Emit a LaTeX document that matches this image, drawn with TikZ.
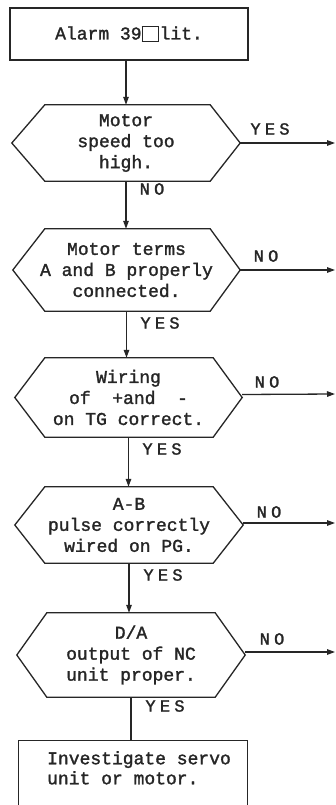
\documentclass[tikz,border=0pt]{standalone}
\usepackage{fontspec}
\setmainfont{Liberation Mono}[FakeBold=1.6]
\newfontfamily\tagfont{Liberation Mono}[FakeBold=1.6, LetterSpace=25]
\usetikzlibrary{arrows.meta}

% empty indicator square inside the alarm text
\newcommand\lampbox{\raisebox{-1.5pt}{\setlength\fboxsep{0pt}\setlength\fboxrule{1pt}\fbox{\rule{0pt}{14pt}\hspace{15pt}}}}
% outline of a decision hexagon drawn around node #1, chamfers #2 (left) and #3 (right)
\newcommand\hexoutline[3]{\draw[ink] (#1.west) -- ([xshift=#2]#1.north west) -- ([xshift=-#3]#1.north east) -- (#1.east) -- ([xshift=-#3]#1.south east) -- ([xshift=#2]#1.south west) -- cycle;}

\begin{document}
\begin{tikzpicture}[x=1pt,y=-1pt,
  ink/.style={draw=black!85, line width=1.3pt},
  txt/.style={text=black!85, font=\fontsize{18}{21}\selectfont, inner sep=0pt},
  dec/.style={txt, align=center},
  arr/.style={ink, -{Triangle[length=8pt,width=5.5pt]}},
  plain/.style={ink},
  tag/.style={txt, font=\tagfont\fontsize{17}{17}\selectfont}
]
\useasboundingbox (0,0) rectangle (336,805);
\fill[white] (0,0) rectangle (336,805);
\clip (0,0) rectangle (336,805);

% start box
\node[ink, txt, minimum width=238pt, minimum height=52pt] (b0) at (129,34) {Alarm 39\lampbox\hspace{1pt}lit.};

% decision nodes
\node[dec, minimum width=228pt, minimum height=76pt] (d1) at (126,143) {Motor\\speed too\\high.};
\node[dec, minimum width=227pt, minimum height=82pt] (d2) at (126.5,270) {Motor terms\\A and B properly\\connected.};
\node[dec, minimum width=227pt, minimum height=79pt] (d3) at (128.5,397.5) {Wiring\\of\ \ +and\ \ -\\on TG correct.};
\node[dec, minimum width=228pt, minimum height=76pt] (d4) at (129,525) {A-B\\pulse correctly\\wired on PG.};
\node[dec, minimum width=228pt, minimum height=84pt] (d5) at (131,655) {D/A\\output of NC\\unit proper.};
\hexoutline{d1}{33pt}{30pt}
\hexoutline{d2}{32pt}{30pt}
\hexoutline{d3}{30pt}{29pt}
\hexoutline{d4}{30pt}{30pt}
\hexoutline{d5}{30pt}{30pt}

% end box, running off the lower edge
\node[ink, rectangle, anchor=north west, minimum width=229pt, minimum height=110pt] (b6) at (18,740) {};
\node[txt, anchor=north west, align=left, font=\fontsize{18}{20}\selectfont] (t6) at (47,751) {Investigate servo\\unit or motor.};

% main flow
\draw[arr] (d1.north |- b0.south) -- (d1.north);
\draw[arr] (d1.south) -- (d1.south |- d2.north);
\draw[arr] (d2.south) -- (d2.south |- d3.north);
\draw[arr] (d3.south) -- (d3.south |- d4.north);
\draw[arr] (d4.south) -- (d4.south |- d5.north);
\draw[plain] (d5.south) -- (d5.south |- b6.north);

% exits to the right
\coordinate (e1) at (335,143);
\coordinate (e2) at (335,270);
\coordinate (e3) at (335,394);
\coordinate (e4) at (335,523);
\coordinate (e5) at (335,652);
\draw[arr] (d1.east) -- (e1);
\draw[arr] (d2.east) -- (e2);
\draw[arr] ([yshift=3pt]d3.east) -- (e3);
\draw[arr] ([yshift=2pt]d4.east) -- (e4);
\draw[arr] ([yshift=3pt]d5.east) -- (e5);

% branch labels
\node[tag] (y1) at (270,129) {YES};
\node[tag] (n2) at (266,256) {NO};
\node[tag] (n3) at (267,382) {NO};
\node[tag] (n4) at (269,512) {NO};
\node[tag] (n5) at (272,639) {NO};
\node[tag] (n1) at (152,189) {NO};
\node[tag] (y2) at (160,323) {YES};
\node[tag] (y3) at (162,449) {YES};
\node[tag] (y4) at (163,575) {YES};
\node[tag] (y5) at (165,706) {YES};
\end{tikzpicture}
\end{document}
